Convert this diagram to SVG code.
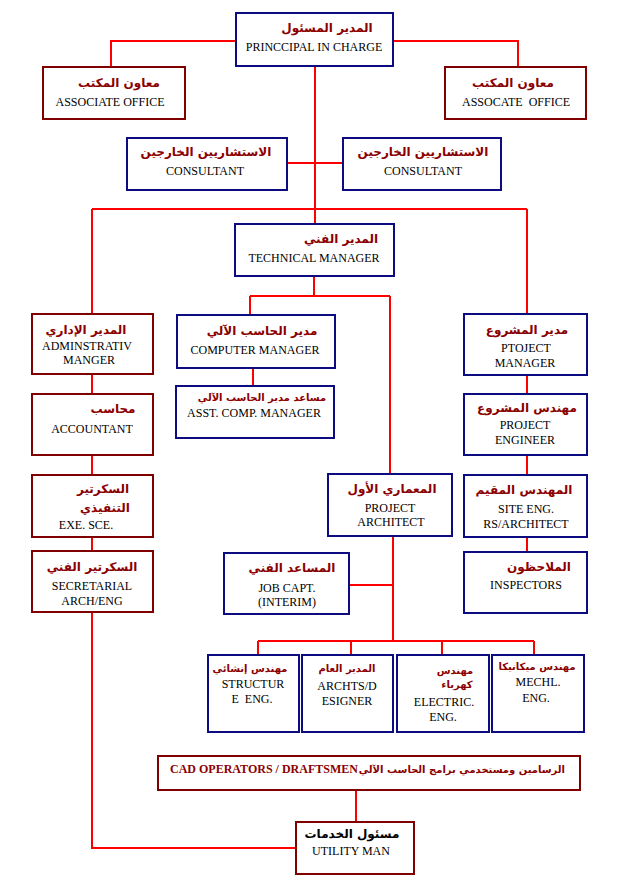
<svg xmlns="http://www.w3.org/2000/svg" width="620" height="880" viewBox="0 0 620 880">
<style>
.bn{fill:#fff;stroke:#0c0c80;stroke-width:2}
.bm{fill:#fff;stroke:#800000;stroke-width:2}
.ar{font-family:"DejaVu Sans",sans-serif;font-weight:bold;font-size:12px;fill:#8b0000;text-anchor:middle}
.ars{font-family:"DejaVu Sans",sans-serif;font-weight:bold;font-size:10px;fill:#8b0000;text-anchor:middle}
.en{font-family:"Liberation Serif",serif;font-size:12px;fill:#000;text-anchor:middle}
.enb{font-family:"Liberation Serif",serif;font-weight:bold;font-size:12px;fill:#8b0000}
.c{fill:none;stroke:#ff0000;stroke-width:2}
</style>
<rect width="620" height="880" fill="#fff"/>
<g id="connectors">
<path class="c" d="M236,41 H111 V67"/>
<path class="c" d="M393,41 H518 V67"/>
<path class="c" d="M315,66 V224"/>
<path class="c" d="M287,163 H343"/>
<path class="c" d="M92,209 H527"/>
<path class="c" d="M92,209 V314"/>
<path class="c" d="M527,209 V314"/>
<path class="c" d="M314,276 V296"/>
<path class="c" d="M250,296 H390"/>
<path class="c" d="M250,296 V315"/>
<path class="c" d="M390,296 V474"/>
<path class="c" d="M253,368 V386"/>
<path class="c" d="M92,374 V394"/>
<path class="c" d="M92,455 V475"/>
<path class="c" d="M92,537 V551"/>
<path class="c" d="M92,612 V848 H296"/>
<path class="c" d="M527,375 V394"/>
<path class="c" d="M527,455 V475"/>
<path class="c" d="M527,537 V552"/>
<path class="c" d="M393,536 V641"/>
<path class="c" d="M349,585 H393"/>
<path class="c" d="M258,641 H534"/>
<path class="c" d="M258,641 V655"/>
<path class="c" d="M351,641 V655"/>
<path class="c" d="M442,641 V655"/>
<path class="c" d="M534,641 V655"/>
<path class="c" d="M356,790 V822"/>
</g>
<g id="principal">
<rect class="bn" x="236" y="13" width="157" height="53"/>
<text class="ar" x="327" y="32">المدير المسئول</text>
<text class="en" x="314" y="51">PRINCCIPAL IN CHARGE</text>
</g>
<g id="associate-left">
<rect class="bm" x="43" y="67" width="142" height="52"/>
<text class="ar" x="119" y="87">معاون المكتب</text>
<text class="en" x="110" y="106">ASSOCIATE OFFICE</text>
</g>
<g id="associate-right">
<rect class="bm" x="445" y="67" width="141" height="52"/>
<text class="ar" x="513" y="87">معاون المكتب</text>
<text class="en" x="516" y="106" xml:space="preserve">ASSOCATE  OFFICE</text>
</g>
<g id="consultant-left">
<rect class="bn" x="127" y="138" width="160" height="52"/>
<text class="ar" x="206" y="156">الاستشاريين الخارجين</text>
<text class="en" x="205" y="175">CONSULTANT</text>
</g>
<g id="consultant-right">
<rect class="bn" x="343" y="138" width="158" height="52"/>
<text class="ar" x="423" y="156">الاستشاريين الخارجين</text>
<text class="en" x="423" y="175">CONSULTANT</text>
</g>
<g id="technical-manager">
<rect class="bn" x="235" y="224" width="159" height="52"/>
<text class="ar" x="341" y="243">المدير الفني</text>
<text class="en" x="314" y="262">TECHNICAL MANAGER</text>
</g>
<g id="admin-manager">
<rect class="bm" x="32" y="314" width="121" height="60"/>
<text class="ar" x="86" y="334">المدير الإداري</text>
<text class="en" x="87" y="350">ADMINSTRATIV</text>
<text class="en" x="89" y="364">MANGER</text>
</g>
<g id="accountant">
<rect class="bm" x="32" y="394" width="121" height="61"/>
<text class="ar" x="113" y="413">محاسب</text>
<text class="en" x="92" y="433">ACCOUNTANT</text>
</g>
<g id="exe-sce">
<rect class="bm" x="32" y="475" width="121" height="62"/>
<text class="ar" x="103" y="493">السكرتير</text>
<text class="ar" x="105" y="512">التنفيذي</text>
<text class="en" x="86" y="529">EXE. SCE.</text>
</g>
<g id="secretarial">
<rect class="bm" x="32" y="551" width="121" height="61"/>
<text class="ar" x="92" y="571">السكرتير الفني</text>
<text class="en" x="92" y="590">SECRETARIAL</text>
<text class="en" x="92" y="605">ARCH/ENG</text>
</g>
<g id="computer-manager">
<rect class="bn" x="177" y="315" width="158" height="53"/>
<text class="ar" x="262" y="335">مدير الحاسب الآلي</text>
<text class="en" x="255" y="354">COMPUTER MANAGER</text>
</g>
<g id="asst-comp-manager">
<rect class="bn" x="176" y="386" width="158" height="52"/>
<text class="ars" x="262" y="401">مساعد مدير الحاسب الآلي</text>
<text class="en" x="254" y="417">ASST. COMP. MANAGER</text>
</g>
<g id="project-architect">
<rect class="bn" x="328" y="474" width="124" height="62"/>
<text class="ar" x="392" y="493">المعماري الأول</text>
<text class="en" x="390" y="512">PROJECT</text>
<text class="en" x="391" y="526">ARCHITECT</text>
</g>
<g id="job-capt">
<rect class="bn" x="224" y="553" width="125" height="61"/>
<text class="ar" x="292" y="572">المساعد الفني</text>
<text class="en" x="287" y="592">JOB CAPT.</text>
<text class="en" x="287" y="606">(INTERIM)</text>
</g>
<g id="project-manager">
<rect class="bn" x="464" y="314" width="123" height="61"/>
<text class="ar" x="527" y="334">مدير المشروع</text>
<text class="en" x="526" y="352">PTOJECT</text>
<text class="en" x="525" y="367">MANAGER</text>
</g>
<g id="project-engineer">
<rect class="bn" x="464" y="394" width="123" height="61"/>
<text class="ar" x="527" y="412">مهندس المشروع</text>
<text class="en" x="525" y="429">PROJECT</text>
<text class="en" x="525" y="444">ENGINEER</text>
</g>
<g id="site-engineer">
<rect class="bn" x="464" y="475" width="123" height="62"/>
<text class="ar" x="524" y="494">المهندس المقيم</text>
<text class="en" x="526" y="513">SITE ENG.</text>
<text class="en" x="526" y="528">RS/ARCHITECT</text>
</g>
<g id="inspectors">
<rect class="bn" x="464" y="552" width="123" height="61"/>
<text class="ar" x="539" y="571">الملاحظون</text>
<text class="en" x="526" y="589">INSPECTORS</text>
</g>
<g id="structure-eng">
<rect class="bn" x="208" y="655" width="91" height="77"/>
<text class="ars" x="250" y="672">مهندس إنشائي</text>
<text class="en" x="253" y="688">STRUCTUR</text>
<text class="en" x="252" y="703" xml:space="preserve">E  ENG.</text>
</g>
<g id="archts-designer">
<rect class="bn" x="302" y="655" width="91" height="77"/>
<text class="ars" x="347" y="672">المدير العام</text>
<text class="en" x="347" y="690">ARCHTS/D</text>
<text class="en" x="347" y="705">ESIGNER</text>
</g>
<g id="electric-eng">
<rect class="bn" x="397" y="655" width="92" height="77"/>
<text class="ars" x="455" y="674">مهندس</text>
<text class="ars" x="457" y="688">كهرباء</text>
<text class="en" x="444" y="706">ELECTRIC.</text>
<text class="en" x="443" y="721">ENG.</text>
</g>
<g id="mechl-eng">
<rect class="bn" x="492" y="655" width="92" height="77"/>
<text class="ars" x="537" y="670">مهندس ميكانيكا</text>
<text class="en" x="538" y="686">MECHL.</text>
<text class="en" x="536" y="702">ENG.</text>
</g>
<g id="cad-operators">
<rect class="bm" x="158" y="756" width="422" height="34"/>
<text class="enb" x="170" y="773">CAD OPERATORS / DRAFTSMEN</text>
<text class="ar" x="565" y="773" style="text-anchor:end;font-size:10px">الرسامين ومستخدمي برامج الحاسب الآلي</text>
</g>
<g id="utility-man">
<rect class="bm" x="296" y="822" width="118" height="52"/>
<text class="ar" x="352" y="838" style="fill:#000">مسئول الخدمات</text>
<text class="en" x="351" y="855">UTILITY MAN</text>
</g>
</svg>
